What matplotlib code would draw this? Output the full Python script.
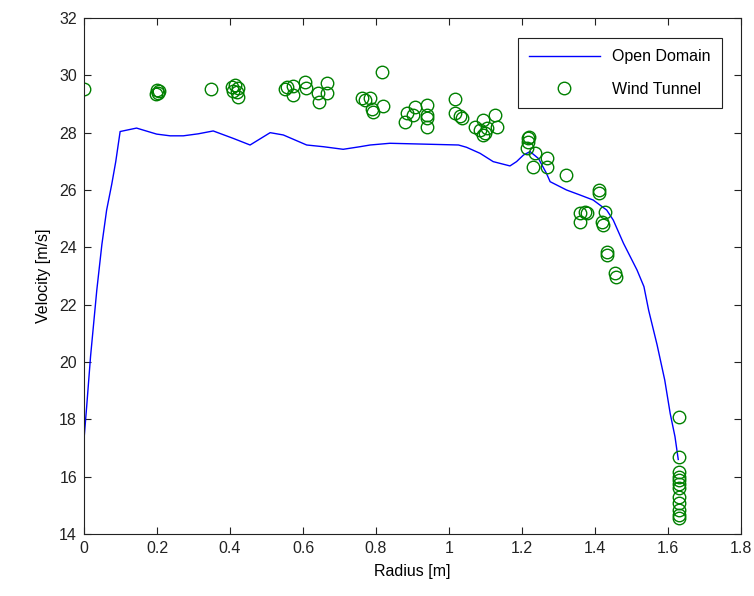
import matplotlib
matplotlib.use("Agg")
import matplotlib.pyplot as plt

plt.rcParams['font.family'] = ['Liberation Sans', 'DejaVu Sans']

# Open Domain (line)
line_r = [0.0, 0.0073, 0.018, 0.035, 0.049, 0.062, 0.076, 0.087, 0.099, 0.144, 0.199,
          0.236, 0.272, 0.313, 0.354, 0.409, 0.455, 0.51, 0.546, 0.61, 0.656, 0.71,
          0.756, 0.784, 0.838, 1.026, 1.048, 1.085, 1.121, 1.167, 1.185, 1.204, 1.222,
          1.245, 1.267, 1.277, 1.322, 1.358, 1.395, 1.432, 1.45, 1.478, 1.515, 1.534,
          1.547, 1.57, 1.591, 1.606, 1.619, 1.628]
line_v = [17.3, 18.44, 20.2, 22.5, 24.1, 25.3, 26.2, 26.99, 28.04, 28.16, 27.95,
          27.89, 27.89, 27.96, 28.06, 27.8, 27.57, 28.0, 27.92, 27.57, 27.51, 27.42,
          27.51, 27.57, 27.63, 27.57, 27.49, 27.28, 26.99, 26.84, 26.99, 27.22, 27.34,
          27.1, 26.58, 26.29, 26.0, 25.83, 25.65, 25.3, 24.95, 24.14, 23.21, 22.63,
          21.8, 20.6, 19.37, 18.2, 17.4, 16.6]

# Wind Tunnel (scatter)
wt_r = [0.0, 0.2, 0.203, 0.198, 0.205, 0.347,
        0.405, 0.414, 0.423, 0.418, 0.423, 0.407,
        0.551, 0.555, 0.573, 0.573, 0.605, 0.608, 0.642, 0.645, 0.665, 0.667,
        0.816, 0.761, 0.77, 0.784, 0.788, 0.791, 0.818,
        0.884, 0.879, 0.907, 0.902, 0.939, 0.939, 0.939, 0.939,
        1.016, 1.016, 1.03, 1.035,
        1.071, 1.085, 1.094, 1.094, 1.103, 1.099, 1.126, 1.131,
        1.217, 1.217, 1.22, 1.215, 1.236, 1.231, 1.269, 1.269, 1.32,
        1.412, 1.412, 1.359, 1.373, 1.359, 1.377, 1.427, 1.418, 1.423,
        1.432, 1.432, 1.455, 1.458,
        1.631, 1.631, 1.631, 1.631, 1.631, 1.631, 1.631, 1.631, 1.631, 1.631, 1.631, 1.631]
wt_v = [29.52, 29.5, 29.4, 29.35, 29.45, 29.52,
        29.6, 29.66, 29.55, 29.43, 29.25, 29.47,
        29.52, 29.6, 29.64, 29.31, 29.78, 29.55, 29.37, 29.06, 29.72, 29.37,
        30.1, 29.22, 29.14, 29.2, 28.82, 28.73, 28.94,
        28.67, 28.38, 28.9, 28.61, 28.96, 28.61, 28.5, 28.2,
        29.17, 28.67, 28.59, 28.5,
        28.2, 28.09, 28.44, 27.92, 28.15, 27.98, 28.61, 28.2,
        27.8, 27.68, 27.86, 27.45, 27.28, 26.81, 27.1, 26.81, 26.52,
        26.0, 25.88, 25.19, 25.24, 24.9, 25.19, 25.24, 24.9, 24.78,
        23.85, 23.73, 23.09, 22.95,
        18.09, 16.67, 16.17, 16.0, 15.88, 15.59, 15.3, 15.07, 14.84, 14.66, 14.55, 15.75]

x_ticks = [0, 0.2, 0.4, 0.6, 0.8, 1.0, 1.2, 1.4, 1.6, 1.8]
x_labels = ['0', '0.2', '0.4', '0.6', '0.8', '1', '1.2', '1.4', '1.6', '1.8']
y_ticks = [14, 16, 18, 20, 22, 24, 26, 28, 30, 32]

fig = plt.figure(figsize=(7.54, 5.96), dpi=100)
ax = fig.add_axes([0.1114, 0.104, 0.8714, 0.8658])

ax.plot(line_r, line_v, color=(0, 0, 1), lw=1.0, label='Open Domain')
ax.plot(wt_r, wt_v, linestyle='none', marker='o', markersize=9,
        markerfacecolor='none', markeredgecolor=(0, 0.5, 0), markeredgewidth=1.0,
        label='Wind Tunnel')

ax.set_xlim(0, 1.8)
ax.set_ylim(14, 32)
ax.set_xticks(x_ticks)
ax.set_xticklabels(x_labels)
ax.set_yticks(y_ticks)
ax.tick_params(direction='in', top=True, right=True, length=5, width=0.8,
               labelsize=11.5, colors='#222222', pad=5)
for s in ax.spines.values():
    s.set_linewidth(0.8)
    s.set_color('#222222')

ax.set_xlabel('Radius [m]', fontsize=11.5, labelpad=6)
ax.set_ylabel('Velocity [m/s]', fontsize=11.5, labelpad=6)

leg = ax.legend(loc='upper right', bbox_to_anchor=(0.971, 0.961), fontsize=11.5,
                fancybox=False, framealpha=1, edgecolor='#222222',
                handlelength=4.4, handletextpad=0.8, borderpad=0.7,
                labelspacing=1.1, borderaxespad=0)
leg.get_frame().set_linewidth(0.8)

fig.savefig('out.png', dpi=100)
